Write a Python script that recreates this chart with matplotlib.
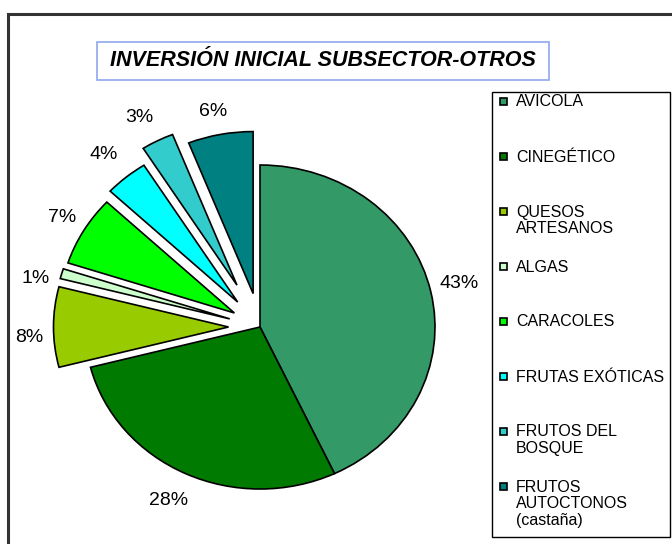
import matplotlib
matplotlib.use('Agg')
import matplotlib.pyplot as plt
from matplotlib.patches import Rectangle

plt.rcParams['font.family'] = ['Liberation Sans', 'DejaVu Sans']

categories = ['AVICOLA', 'CINEGÉTICO', 'QUESOS\nARTESANOS', 'ALGAS', 'CARACOLES',
              'FRUTAS EXÓTICAS', 'FRUTOS DEL\nBOSQUE', 'FRUTOS\nAUTOCTONOS\n(castaña)']
values = [43, 28, 8, 1, 7, 4, 3, 6]
colors = ['#339966', '#007A00', '#99CC00', '#CCFFCC', '#00FF00',
          '#00FFFF', '#33CCCC', '#008080']
explode = [0, 0, 0.18, 0.18, 0.17, 0.2, 0.29, 0.21]
title = 'INVERSIÓN INICIAL SUBSECTOR-OTROS'

# ajuste fino de las etiquetas de porcentaje (px: derecha, abajo)
label_nudge = [(1, -3), (-5, 3), (4, 11), (1, 12), (2, 0), (-5, -3), (-5, 0), (-2, 3)]

W, H = 672, 544
fig = plt.figure(figsize=(W / 100, H / 100), dpi=100)

# eje de la tarta (en pixeles: centro y radios)
cx, cy = 260, 327
rx, ry = 175, 162
aw = 490
ax = fig.add_axes([0, 0, aw / W, 1])
wedges, texts, autotexts = ax.pie(
    values, explode=explode, colors=colors, startangle=90, counterclock=False,
    autopct='%1.0f%%', pctdistance=1.16,
    wedgeprops=dict(edgecolor='black', linewidth=1.2),
    textprops=dict(fontsize=14))
ax.set_aspect('auto')
ax.set_xlim(-cx / rx, (aw - cx) / rx)
ax.set_ylim(-(H - cy) / ry, cy / ry)
ax.axis('off')

for t, (dx, dy) in zip(autotexts, label_nudge):
    x, y = t.get_position()
    t.set_position((x + dx / rx, y - dy / ry))

def fx(px):
    return px / W

def fy(py):
    return 1 - py / H

# marco exterior
fig.patches.append(Rectangle((fx(8), -0.02), 1.1, fy(14) + 0.02, transform=fig.transFigure,
                             fill=False, edgecolor='#333333', linewidth=2.2))

# titulo
fig.patches.append(Rectangle((fx(97), fy(80)), fx(549) - fx(97), fy(42) - fy(80),
                             transform=fig.transFigure, fill=False,
                             edgecolor='#8FA8EC', linewidth=1.2))
fig.text(fx(323), fy(61), title, ha='center', va='center', fontsize=15.5,
         fontweight='bold', style='italic')

# leyenda
fig.patches.append(Rectangle((fx(492), fy(537)), fx(670) - fx(492), fy(92) - fy(537),
                             transform=fig.transFigure, fill=False,
                             edgecolor='black', linewidth=1))
for i, (cat, col) in enumerate(zip(categories, colors)):
    y = 101.5 + 55 * i
    fig.patches.append(Rectangle((fx(499.5), fy(y + 3.5)), 7 / W, 7 / H,
                                 transform=fig.transFigure, facecolor=col,
                                 edgecolor='black', linewidth=1.2))
    fig.text(fx(516), fy(y - 7), cat, ha='left', va='top', fontsize=11.5,
             linespacing=1.13)

fig.savefig('out.png', dpi=100)
